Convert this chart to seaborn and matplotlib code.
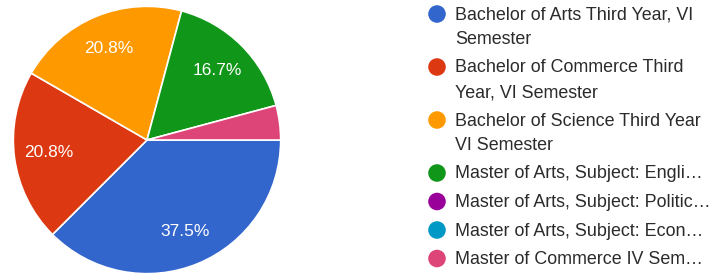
import matplotlib
matplotlib.use("Agg")
import matplotlib.pyplot as plt
import seaborn as sns

# Responses per programme (24 in total)
categories = [
    "Bachelor of Arts Third Year, VI\nSemester",
    "Bachelor of Commerce Third\nYear, VI Semester",
    "Bachelor of Science Third Year\nVI Semester",
    "Master of Arts, Subject: Engli…",
    "Master of Arts, Subject: Politic…",
    "Master of Arts, Subject: Econ…",
    "Master of Commerce IV Sem…",
]
counts = [9, 5, 5, 4, 0, 0, 1]
colors = ["#3366cc", "#dc3912", "#ff9900", "#109618", "#990099", "#0099c6", "#dd4477"]

sns.set_theme(style="white")
plt.rcParams["font.family"] = ["Liberation Sans", "DejaVu Sans"]

fig = plt.figure(figsize=(7.15, 2.78), dpi=100)

# pie (zero slices are only shown in the legend)
ax = fig.add_axes([12 / 715, 3 / 278, 270 / 715, 270 / 278])
vals = [c for c in counts if c > 0]
cols = [col for c, col in zip(counts, colors) if c > 0]


def fmt(pct):
    return f"{pct:.1f}%" if pct >= 5 else ""


wedges, texts, autotexts = ax.pie(
    vals, colors=cols, startangle=0, counterclock=False,
    autopct=fmt, pctdistance=0.74,
    wedgeprops=dict(edgecolor="white", linewidth=1.2),
    textprops=dict(color="white", fontsize=12.5),
)
ax.set_xlim(-1.01, 1.01)
ax.set_ylim(-1.01, 1.01)
ax.set_aspect("equal")

# legend drawn by hand so the dot sits on the first line of a wrapped label
lax = fig.add_axes([0, 0, 1, 1])
lax.set_xlim(0, 715)
lax.set_ylim(278, 0)
lax.axis("off")

line_h = 24.5
gap = 4.0
y = 14.0
for label, col in zip(categories, colors):
    lax.scatter(437, y, s=160, color=col, edgecolor="none")
    for line in label.split("\n"):
        lax.text(455, y + 1, line, va="center", ha="left", fontsize=12.9,
                 color="#2b2b2b")
        y += line_h
    y += gap

fig.savefig("out.png", dpi=100)
